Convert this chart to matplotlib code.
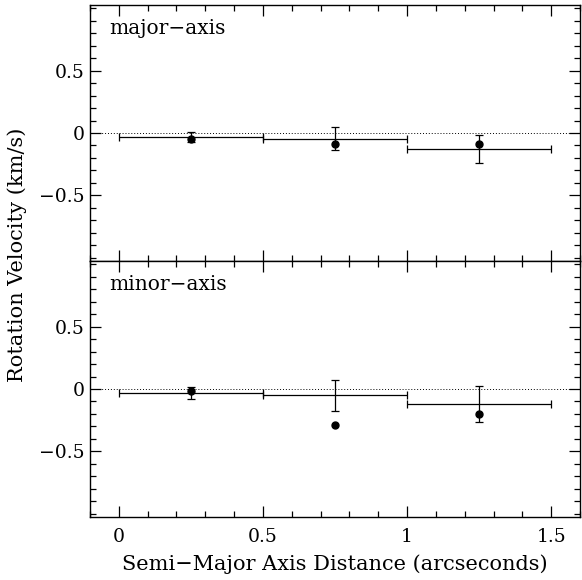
import numpy as np
import matplotlib
matplotlib.use("Agg")
import matplotlib.pyplot as plt
from matplotlib.ticker import MultipleLocator

plt.rcParams['font.family'] = 'DejaVu Serif'
plt.rcParams['font.size'] = 13.5

''' DATA '''
bin_centers = [0.25, 0.75, 1.25]
bin_halfwidth = [0.25, 0.25, 0.25]

major_bin_vel = [-0.035, -0.045, -0.13]
major_bin_err = [0.04, 0.09, 0.113]
major_pts = [-0.05, -0.09, -0.09]

minor_bin_vel = [-0.03, -0.05, -0.118]
minor_bin_err = [0.05, 0.125, 0.145]
minor_pts = [-0.013, -0.288, -0.203]

panels = [("major\u2212axis", major_bin_vel, major_bin_err, major_pts),
          ("minor\u2212axis", minor_bin_vel, minor_bin_err, minor_pts)]

''' PLOTS '''
fig = plt.figure(figsize=(5.82, 5.80), dpi=100)
ax_top = fig.add_axes([0.1546, 0.55, 0.8420, 0.4414])
ax_bot = fig.add_axes([0.1546, 0.1086, 0.8420, 0.4414], sharex=ax_top)

for ax, (name, vel, err, pts) in zip([ax_top, ax_bot], panels):
    ax.axhline(0, color='black', lw=0.7, ls=(0, (1, 2)))
    ax.errorbar(bin_centers, vel, xerr=bin_halfwidth, yerr=err, fmt='none',
                ecolor='black', elinewidth=0.9, capsize=3, capthick=0.9)
    ax.plot(bin_centers, pts, 'o', color='black', markersize=5)
    ax.text(0.04, 0.885, name, transform=ax.transAxes, fontsize=14.5)
    ax.set_xlim(-0.1, 1.6)
    ax.set_ylim(-1.025, 1.025)
    ax.yaxis.set_major_locator(MultipleLocator(0.5))
    ax.yaxis.set_minor_locator(MultipleLocator(0.1))
    ax.xaxis.set_major_locator(MultipleLocator(0.5))
    ax.xaxis.set_minor_locator(MultipleLocator(0.1))
    ax.tick_params(which='both', direction='in', top=True, right=True, width=0.9)
    ax.tick_params(which='major', length=8)
    ax.tick_params(which='minor', length=4)
    ax.set_yticks([-0.5, 0, 0.5])
    ax.set_yticklabels(['\u22120.5', '0', '0.5'])
    for s in ax.spines.values():
        s.set_linewidth(1.0)

ax_top.tick_params(labelbottom=False)
ax_bot.set_xticks([0, 0.5, 1, 1.5])
ax_bot.set_xticklabels(['0', '0.5', '1', '1.5'])
ax_bot.tick_params(axis='x', pad=8)
ax_bot.set_xlabel("Semi\u2212Major Axis Distance (arcseconds)", labelpad=6, fontsize=15)
fig.text(0.03, 0.56, "Rotation Velocity (km/s)", rotation=90, va='center', ha='center', fontsize=15)

fig.savefig("out.png", dpi=100)
